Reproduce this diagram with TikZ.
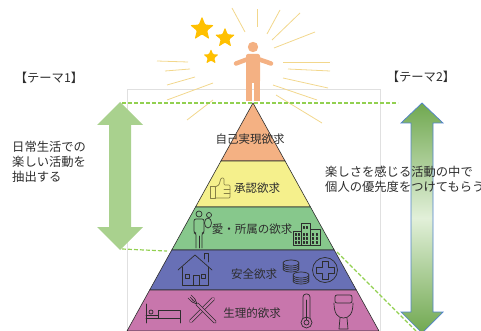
\documentclass[tikz,border=0pt]{standalone}
\usepackage{fontspec}
\setmainfont{Noto Sans CJK JP}
\usetikzlibrary{calc,shapes.geometric}
\definecolor{selfC}{RGB}{244,177,131}
\definecolor{esteemC}{RGB}{245,240,140}
\definecolor{loveC}{RGB}{135,200,140}
\definecolor{safeC}{RGB}{104,112,182}
\definecolor{bodyC}{RGB}{200,118,172}
\definecolor{dashC}{RGB}{146,208,80}
\definecolor{arrowC}{RGB}{169,209,142}
\definecolor{darkC}{RGB}{112,168,80}
\definecolor{paleC}{RGB}{226,240,217}
\definecolor{rimC}{RGB}{80,130,205}
\definecolor{starC}{RGB}{255,192,0}
\definecolor{rayC}{RGB}{242,215,140}
\definecolor{inkC}{RGB}{45,45,45}
\definecolor{thumbC}{RGB}{135,128,70}
\begin{document}
\begin{tikzpicture}[x=1pt,y=-1pt,
    lbl/.style={font=\fontsize{11.5}{13}\selectfont,text=inkC,inner sep=0pt},
    txt/.style={font=\fontsize{12.3}{15}\selectfont,text=inkC,inner sep=0pt,align=left},
    icon/.style={draw=inkC,line width=0.7pt,line join=round,line cap=round},
    guide/.style={dashC,dash pattern=on 4pt off 2pt,line width=1.2pt},
    starshape/.style={star,star points=5,star point ratio=2.3,fill=starC,inner sep=0pt,rounded corners=1pt}]
\useasboundingbox (0,0) rectangle (481,331);

% frame behind the pyramid
\draw[black!12,line width=0.4pt] (127,335) -- (127,89) -- (380,89) -- (380,335);

% rays round the figure
\foreach \xa/\ya/\xb/\yb in {245/32/232/8, 257/27/257/9, 267/34/280/10, 272/40/300/13,
    274/48/315/32, 283/62/330/62, 288/69/330/71, 283/78/328/88, 273/85/317/100,
    276/95/322/123, 188/62/157/61, 190/69/165/71, 195/77/167/85, 213/83/167/100,
    213/100/187/120}
  \draw[rayC,line width=0.8pt] (\xa,\ya) -- (\xb,\yb);

% the pyramid, bottom layer last
\coordinate (apex) at (253,103);
\coordinate (bl) at (127,331);
\coordinate (br) at (379,331);
\foreach \t/\u/\col in {0/0.2544/selfC, 0.2544/0.4561/esteemC, 0.4561/0.6447/loveC,
    0.6447/0.8202/safeC, 0.8202/1/bodyC}
  \filldraw[fill=\col,draw=inkC,line width=0.6pt]
    ($(apex)!\t!(bl)$) -- ($(apex)!\u!(bl)$) -- ($(apex)!\u!(br)$) -- ($(apex)!\t!(br)$) -- cycle;

\node[lbl] (self) at (250,139) {自己実現欲求};
\node[lbl] (esteem) at (257,188) {承認欲求};
\node[lbl] (love) at (252,229) {愛・所属の欲求};
\node[lbl] (safe) at (254,274) {安全欲求};
\node[lbl] (body) at (252,313) {生理的欲求};

% guide lines
\coordinate (topL) at (122,103);
\coordinate (topR) at (398,103);
\coordinate (midL) at (122,249);
\coordinate (midR) at (167,251);
\coordinate (slopeA) at (337,252);
\coordinate (slopeB) at (416,331);
\draw[guide] (topL) -- (topR);
\draw[guide] (midL) -- (midR);
\draw[guide] (slopeA) -- (slopeB);

% figure on top
\fill[selfC] (253,47) circle (5.2);
\fill[selfC,rounded corners=2pt] (246,54) rectangle (260,83);
\fill[selfC] (246,80) rectangle (252.3,101);
\fill[selfC] (253.7,80) rectangle (260,101);
\draw[selfC,line width=4.5pt,line cap=round] (248,59) -- (236,63.5);
\draw[selfC,line width=4.5pt,line cap=round] (258,59) -- (271,63.5);

\node[starshape,minimum size=25pt] (starA) at (202,29) {};
\node[starshape,minimum size=21pt] (starB) at (225,38) {};
\node[starshape,minimum size=16pt] (starC) at (211,57) {};

% double arrows
\fill[arrowC] (120,102) -- (143,125) -- (131,125) -- (131,227) -- (143,227) -- (120,250)
  -- (97,227) -- (109,227) -- (109,125) -- (97,125) -- cycle;
\shadedraw[top color=darkC,bottom color=darkC,middle color=paleC,draw=rimC,line width=0.7pt]
  (422,103) -- (443,123) -- (433,123) -- (433,312) -- (443,312) -- (422,333)
  -- (401,312) -- (411,312) -- (411,123) -- (401,123) -- cycle;

% texts
\node[txt] (theme1) at (49,78) {【テーマ1】};
\node[txt] (theme2) at (421,77) {【テーマ2】};
\node[txt,anchor=north west] (pick) at (12,141) {日常生活での\\楽しい活動を\\抽出する};
\node[txt,anchor=north west] (rank) at (325,166) {楽しさを感じる活動の中で\\個人の優先度をつけてもらう};

% thumbs up
\draw[icon,draw=thumbC] (210,186) rectangle (215,198);
\draw[icon,draw=thumbC,rounded corners=1pt] (215,187) -- (219,185) -- (221,178) -- (224,178)
  -- (224,185) -- (230,185) -- (230,198) -- (215,198);
\draw[icon,draw=thumbC] (224,189) -- (230,189) (224,193) -- (230,193);

% parent and child
\draw[icon] (199,214) circle (3);
\draw[icon,rounded corners=2pt] (196,248) -- (196,233) -- (194,233) -- (194,219) -- (204,219)
  -- (204,233) -- (202,233) -- (202,248);
\draw[icon] (199,236) -- (199,248);
\draw[icon] (209,215) circle (2.5);
\draw[icon] (208,223) ellipse (3.5 and 5);

% buildings
\draw[icon] (293,231) rectangle (301,245);
\draw[icon] (301,223) rectangle (310,245);
\draw[icon] (310,229) rectangle (320,245);
\foreach \wx in {295,298,303,306,312,316}
  \foreach \wy in {233,237,241}
    \draw[icon,line width=0.5pt] (\wx,\wy) rectangle ++(1.6,2);
\draw[icon,line width=0.5pt] (303,226) rectangle ++(1.6,2) (306,226) rectangle ++(1.6,2);

% house
\draw[icon] (178,270) -- (195,255) -- (212,270);
\draw[icon] (182,267) -- (182,285) -- (208,285) -- (208,267);
\draw[icon] (204,259) -- (204,253) -- (208,253) -- (208,262);
\draw[icon] (193,285) -- (193,275) -- (199,275) -- (199,285);
\draw[icon] (185,274) rectangle (189,278) (201,274) rectangle (205,278);

% coins
\foreach \cx/\cy in {291/262, 301/274}
  \foreach \k in {7,5,3,1}
    \draw[icon,fill=safeC] (\cx,\cy+\k) ellipse (8 and 3);

% cross in a circle
\draw[icon] (325,270) circle (12.5);
\draw[icon] (322,261) -- (328,261) -- (328,267) -- (334,267) -- (334,273) -- (328,273)
  -- (328,279) -- (322,279) -- (322,273) -- (316,273) -- (316,267) -- (322,267) -- cycle;

% bed
\draw[icon] (146,304) -- (146,323);
\draw[icon] (146,318) -- (180,318) -- (180,323);
\draw[icon] (158,310) rectangle (180,318);
\draw[icon] (151,312) circle (2);
\draw[icon] (146,315) -- (158,315);

% knife and fork
\draw[inkC,line width=3.8pt,line cap=round] (213,299) -- (191,321);
\draw[bodyC,line width=2.4pt,line cap=round] (213,299) -- (191,321);
\draw[inkC,line width=3.2pt,line cap=round] (197,304) -- (215,322);
\draw[bodyC,line width=1.8pt,line cap=round] (197,304) -- (215,322);
\draw[icon,rounded corners=1pt] (197,304) -- (192,302) -- (188,298) (197,304) -- (195,299) -- (191,295);
\draw[icon] (193,300) -- (190,297) (195,302) -- (192,299.5);

% thermometer
\draw[icon,rounded corners=3pt] (303,318) -- (303,294) -- (310,294) -- (310,318);
\draw[icon,fill=bodyC] (306.5,322.5) circle (5.5);
\draw[icon] (306.5,322.5) circle (2.5) (306.5,320) -- (306.5,300);

% toilet
\draw[icon,rounded corners=2pt] (335,295) rectangle (352,303);
\draw[icon] (334,303) .. controls (334,314) and (338,318) .. (343.5,318)
  .. controls (349,318) and (353,314) .. (353,303);
\draw[icon] (340,318) -- (339,329) -- (348,329) -- (347,318);
\end{tikzpicture}
\end{document}
